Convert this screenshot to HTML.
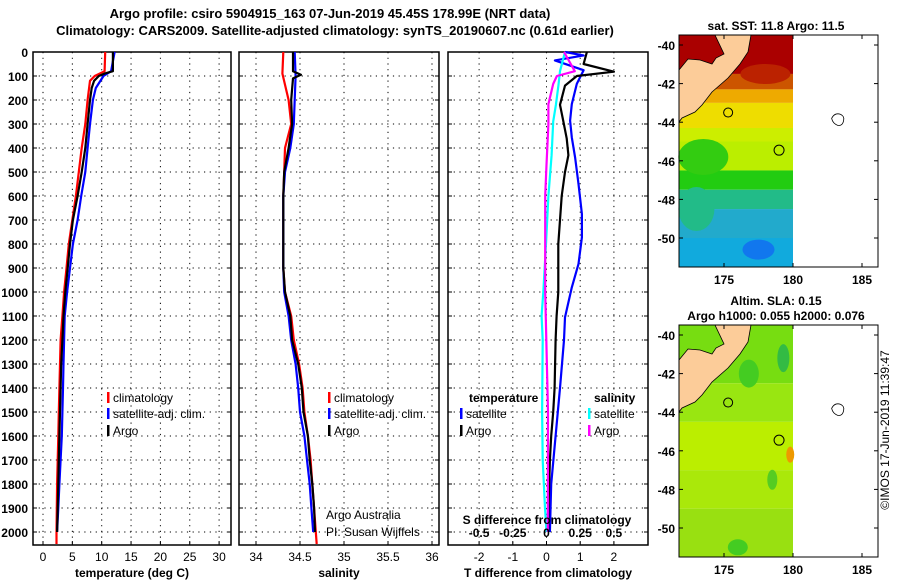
<!DOCTYPE html>
<html><head><meta charset="utf-8"><style>
html,body{margin:0;padding:0;background:#fff;}
svg{display:block;font-family:"Liberation Sans",sans-serif;}
</style></head><body>
<svg id="chart" width="900" height="580" viewBox="0 0 900 580">
<g id="titles" font-size="13" font-weight="bold" text-anchor="middle">
<text x="330" y="18">Argo profile: csiro 5904915_163 07-Jun-2019 45.45S 178.99E (NRT data)</text>
<text x="335" y="35">Climatology: CARS2009. Satellite-adjusted climatology: synTS_20190607.nc (0.61d earlier)</text>
</g>
<g id="panels"></g>
<g id="maps"></g>
<text transform="translate(889,430) rotate(-90)" font-size="12" text-anchor="middle">©IMOS 17-Jun-2019 11:39:47</text>
</svg>
<script>
// depth grid (m)
const depthTicks=[0,100,200,300,400,500,600,700,800,900,1000,1100,1200,1300,1400,1500,1600,1700,1800,1900,2000];
// Temperature profiles
const tArgoDepth=[0,80,90,100,120,150,200,300,400,500,600,700,800,900,1000,1100,1200,1300,1400,1500,1600,1700,1800,1900,2000];
const tArgo=[11.9,11.9,10.5,9.5,8.7,8.3,8.0,7.6,7.2,6.6,5.9,5.1,4.6,4.2,3.8,3.5,3.3,3.1,3.0,2.9,2.8,2.7,2.6,2.5,2.4];
const tClimDepth=[0,80,100,120,200,300,400,500,600,700,800,900,1000,1100,1200,1300,1400,1500,1600,1700,1800,1900,2000,2050];
const tClim=[10.6,10.5,8.8,8.0,7.6,7.2,6.6,6.1,5.6,5.0,4.4,4.0,3.6,3.3,3.0,2.9,2.8,2.7,2.6,2.5,2.4,2.35,2.3,2.3];
const tSatDepth=[0,80,100,150,200,300,400,500,600,700,800,900,1000,1100,1200,1300,1400,1500,1600,1700,1800,1900,2000];
const tSat=[12.2,11.6,10.3,9.0,8.5,8.0,7.6,7.2,6.5,5.9,5.1,4.6,4.1,3.7,3.6,3.5,3.4,3.3,3.2,3.0,2.8,2.6,2.4];
// Salinity profiles
const sArgoDepth=[0,80,95,110,200,300,400,500,600,700,800,900,1000,1100,1200,1300,1400,1500,1600,1700,1800,1900,2000];
const sArgo=[34.42,34.42,34.51,34.42,34.40,34.41,34.37,34.32,34.31,34.31,34.31,34.31,34.33,34.39,34.41,34.48,34.52,34.54,34.59,34.61,34.64,34.66,34.67];
const sClimDepth=[0,90,200,300,400,500,600,700,800,900,1000,1100,1200,1300,1400,1500,1600,1700,1800,1900,2000,2050];
const sClim=[34.31,34.30,34.37,34.40,34.33,34.32,34.31,34.31,34.31,34.31,34.33,34.40,34.43,34.49,34.53,34.55,34.59,34.62,34.64,34.66,34.68,34.69];
const sSatDepth=[0,100,200,300,400,500,600,700,800,900,1000,1100,1200,1300,1400,1500,1600,1700,1800,1900,2000];
const sSat=[34.44,34.45,34.44,34.43,34.39,34.33,34.31,34.31,34.31,34.31,34.32,34.37,34.40,34.45,34.48,34.50,34.55,34.58,34.61,34.63,34.65];
// Differences from climatology
const dTArgoDepth=[0,50,82,100,140,220,290,360,430,500,600,700,800,1000,1100,1200,1400,1500,1600,1700,1800,1900,2000];
const dTArgo=[1.2,1.1,2.0,0.9,0.55,0.4,0.5,0.6,0.65,0.55,0.45,0.4,0.35,0.35,0.3,0.27,0.24,0.2,0.14,0.1,0.08,0.06,0.05];
const dTSatDepth=[0,14,35,76,133,217,286,356,439,550,675,772,883,981,1106,1200,1400,1600,1800,2000];
const dTSat=[0.55,1.1,0.25,1.1,0.9,0.75,0.7,0.75,0.85,0.95,1.05,1.05,0.95,0.75,0.55,0.52,0.4,0.27,0.14,0.1];
const dSSatDepth=[0,80,140,220,290,430,600,800,1000,1100,1200,1500,1700,1900,2000];
const dSSat=[0.137,0.1,0.088,0.07,0.05,0.038,0.014,-0.004,-0.024,-0.036,-0.028,-0.033,-0.028,-0.011,0];
const dSArgoDepth=[0,80,100,133,217,300,470,600,800,1000,1500,2000];
const dSArgo=[0.13,0.21,0.077,0.05,0.014,0.014,0,-0.01,-0.01,-0.01,0.011,0.01];

const NS='http://www.w3.org/2000/svg';
function mk(tag,attrs,parent){const e=document.createElementNS(NS,tag);for(const k in attrs)e.setAttribute(k,attrs[k]);parent.appendChild(e);return e;}
const Y0=52,PXM=0.24,YB=545;
function yD(d){return Y0+d*PXM;}
const panels=document.getElementById('panels');

function panel(name,L,R,xf,ticks,tickLabels,xlabel,showY){
  const g=mk('g',{},panels);
  
  
  const frame=mk('rect',{x:L,y:Y0,width:R-L,height:YB-Y0,fill:'#fff',stroke:'#000','stroke-width':1.5},g);
  
  
  depthTicks.forEach(d=>{
    const ln=mk('line',{x1:L,x2:R,y1:yD(d),y2:yD(d),stroke:'#000','stroke-dasharray':'1.2,4.5','stroke-width':1},g);
    
    
    mk('line',{x1:L,x2:L+4,y1:yD(d),y2:yD(d),stroke:'#000'},g);
    mk('line',{x1:R,x2:R-4,y1:yD(d),y2:yD(d),stroke:'#000'},g);
    if(showY){const t=mk('text',{x:28,y:yD(d)+5,'font-size':12,'font-weight':'bold','text-anchor':'end'},g);t.textContent=d;
      
      }
  });
  ticks.forEach((v,i)=>{
    const x=xf(v);
    const ln=mk('line',{x1:x,x2:x,y1:Y0,y2:YB,stroke:'#000','stroke-dasharray':'1.2,4.5'},g);
    
    
    mk('line',{x1:x,x2:x,y1:YB,y2:YB-4,stroke:'#000'},g);
    const t=mk('text',{x:x,y:561,'font-size':12,'text-anchor':'middle'},g);t.textContent=tickLabels[i];
    
    
  });
  const xl=mk('text',{x:(L+R)/2,y:577,'font-size':12,'font-weight':'bold','text-anchor':'middle'},g);xl.textContent=xlabel;
  
  
  return g;
}
function line(g,depths,vals,xf,color,name,w){
  const pts=depths.map((d,i)=>xf(vals[i]).toFixed(1)+','+yD(d).toFixed(1)).join(' ');
  const p=mk('polyline',{points:pts,fill:'none',stroke:color,'stroke-width':w||2.2,'stroke-linejoin':'round'},g);
  
  
}
function legend(g,x,y,color,label,name){
  mk('rect',{x:x,y:y-10,width:2.5,height:11,fill:color},g);
  const t=mk('text',{x:x+6,y:y,'font-size':12},g);t.textContent=label;
  
  
}
// Panel 1 temperature
const xT=v=>43+v*5.87;
const g1=panel('temperature-panel',33,231,xT,[0,5,10,15,20,25,30],['0','5','10','15','20','25','30'],'temperature (deg C)',true);
line(g1,tClimDepth,tClim,xT,'#f00','temp-climatology-line');
line(g1,tSatDepth,tSat,xT,'#00f','temp-satellite-line');
line(g1,tArgoDepth,tArgo,xT,'#000','temp-argo-line');
legend(g1,107,402,'#f00','climatology','legend-climatology');
legend(g1,107,418,'#00f','satellite-adj. clim.','legend-satellite');
legend(g1,107,435,'#000','Argo','legend-argo');
// Panel 2 salinity
const xS=v=>256+(v-34)*88;
const g2=panel('salinity-panel',239,439,xS,[34,34.5,35,35.5,36],['34','34.5','35','35.5','36'],'salinity',false);
line(g2,sClimDepth,sClim,xS,'#f00','sal-climatology-line');
line(g2,sSatDepth,sSat,xS,'#00f','sal-satellite-line');
line(g2,sArgoDepth,sArgo,xS,'#000','sal-argo-line');
legend(g2,328,402,'#f00','climatology','legend-climatology');
legend(g2,328,418,'#00f','satellite-adj. clim.','legend-satellite');
legend(g2,328,435,'#000','Argo','legend-argo');
const c1=mk('text',{x:326,y:519,'font-size':12},g2);c1.textContent='Argo Australia';


const c2=mk('text',{x:326,y:536,'font-size':12},g2);c2.textContent='PI: Susan Wijffels';


// Panel 3 differences
const xDT=v=>546.5+v*33.7;
const xDS=v=>546.5+v*134.8;
const g3=panel('difference-panel',448,648,xDT,[-2,-1,0,1,2],['-2','-1','0','1','2'],'T difference from climatology',false);
line(g3,dTSatDepth,dTSat,xDT,'#00f','dT-satellite-line');
line(g3,dTArgoDepth,dTArgo,xDT,'#000','dT-argo-line');
line(g3,dSSatDepth,dSSat,xDS,'#0ff','dS-satellite-line');
line(g3,dSArgoDepth,dSArgo,xDS,'#f0f','dS-argo-line');
[['-0.5',-0.5],['-0.25',-0.25],['0',0],['0.25',0.25],['0.5',0.5]].forEach(a=>{
  const t=mk('text',{x:xDS(a[1]),y:537,'font-size':12,'font-weight':'bold','text-anchor':'middle'},g3);t.textContent=a[0];
  
  
});
const st=mk('text',{x:547,y:524,'font-size':12,'font-weight':'bold','text-anchor':'middle'},g3);st.textContent='S difference from climatology';


const lt=mk('text',{x:469,y:402,'font-size':12,'font-weight':'bold'},g3);lt.textContent='temperature';


const ls=mk('text',{x:594,y:402,'font-size':12,'font-weight':'bold'},g3);ls.textContent='salinity';


legend(g3,460,418,'#00f','satellite','legend-t-satellite');
legend(g3,460,435,'#000','Argo','legend-t-argo');
legend(g3,588,418,'#0ff','satellite','legend-s-satellite');
legend(g3,588,435,'#f0f','Argo','legend-s-argo');

// Maps
const maps=document.getElementById('maps');
const lonTicks=[175,180,185];
const latTicks=[-40,-42,-44,-46,-48,-50];
const xLon=v=>724+(v-175)*13.8;
function mapPanel(name,top,bands,patches,titleLines){
  const g=mk('g',{},maps);
  
  
  const yLat=v=>top+10+(-40-v)*19.3;
  const L=679,R=878,B=top+232;
  bands.forEach(b=>{
    const r=mk('rect',{x:L,y:yLat(b[0]),width:xLon(180)-L,height:yLat(b[1])-yLat(b[0]),fill:b[2]},g);
    
    
  });
  patches.forEach(p=>{
    const e=mk('ellipse',{cx:xLon(p[0]),cy:yLat(p[1]),rx:p[2],ry:p[3],fill:p[4]},g);
    
    
  });
  const o=top-33;
  const pts=[[679,68],[688,57],[700,58],[712,62],[716,56],[724,52],[715,33],[751,33],[748,50],[740,62],[728,76],[712,90],[702,103],[695,110],[682,116],[679,120]];
  const land=mk('polygon',{points:pts.map(p=>p[0]+','+(p[1]+o)).join(' '),fill:'#fccc99',stroke:'#000','stroke-width':0.8},g);
  
  
  const pt=mk('circle',{cx:xLon(178.99),cy:yLat(-45.45),r:5,fill:'none',stroke:'#000'},g);
  
  
  mk('circle',{cx:xLon(175.3),cy:yLat(-43.5),r:4.5,fill:'none',stroke:'#000'},g);
  const isl=mk('path',{d:`M${xLon(182.8)},${yLat(-43.8)} q3,-6 9,-4 q4,2 3,6 q-1,6 -6,5 q-5,-2 -6,-7 z`,fill:'none',stroke:'#000','stroke-width':0.8},g);
  
  
  mk('rect',{x:L,y:top,width:R-L,height:B-top,fill:'none',stroke:'#000','stroke-width':1},g);
  lonTicks.forEach(v=>{
    mk('line',{x1:xLon(v),x2:xLon(v),y1:B,y2:B-4,stroke:'#000'},g);
    mk('line',{x1:xLon(v),x2:xLon(v),y1:top,y2:top+4,stroke:'#000'},g);
    const t=mk('text',{x:xLon(v),y:B+17,'font-size':12,'font-weight':'bold','text-anchor':'middle'},g);t.textContent=v;
    
    
  });
  latTicks.forEach(v=>{
    mk('line',{x1:L,x2:L+4,y1:yLat(v),y2:yLat(v),stroke:'#000'},g);
    mk('line',{x1:R,x2:R-4,y1:yLat(v),y2:yLat(v),stroke:'#000'},g);
    const t=mk('text',{x:675,y:yLat(v)+5,'font-size':12,'font-weight':'bold','text-anchor':'end'},g);t.textContent=v;
    
    
  });
  titleLines.forEach((s,i)=>{
    const t=mk('text',{x:776,y:top-5-(titleLines.length-1-i)*15,'font-size':12,'font-weight':'bold','text-anchor':'middle'},g);t.textContent=s;
    
    
  });
}
mapPanel('sst-map',35,
 [[-39.5,-41.5,'#aa0000'],[-41.5,-42.3,'#cc5500'],[-42.3,-43,'#eeaa00'],[-43,-44.3,'#eedd00'],[-44.3,-45,'#ccee00'],[-45,-46.5,'#bbee00'],[-46.5,-47.5,'#22cc11'],[-47.5,-48.5,'#22bb88'],[-48.5,-50,'#22aacc'],[-50,-51.5,'#11aadd']],
 [[173.5,-45.8,25,18,'#33cc11'],[173,-48.5,18,22,'#22bb88'],[177.5,-50.6,16,10,'#1177ee'],[178,-41.5,25,10,'#bb2200']],
 ['sat. SST: 11.8 Argo: 11.5']);
mapPanel('sla-map',325,
 [[-39.5,-42.5,'#77dd11'],[-42.5,-44.5,'#99e611'],[-44.5,-47,'#bbee00'],[-47,-49,'#aae80a'],[-49,-51.5,'#99e011']],
 [[176.8,-42,10,14,'#44cc22'],[179.3,-41.2,6,14,'#33bb44'],[179.8,-46.2,4,8,'#ee9900'],[176,-51,10,8,'#44cc22'],[178.5,-47.5,5,10,'#55cc22']],
 ['Altim. SLA: 0.15','Argo h1000: 0.055 h2000: 0.076']);
</script>
</body></html>
